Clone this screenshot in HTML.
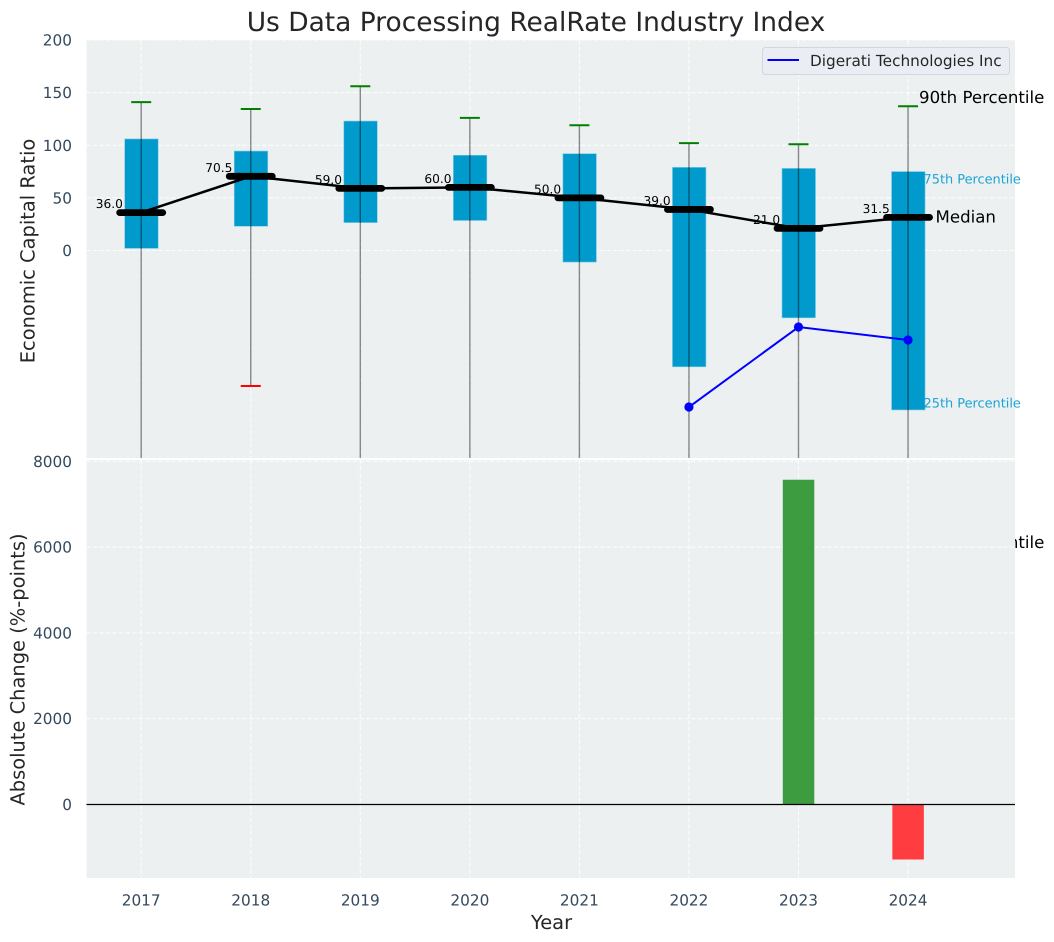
<!DOCTYPE html>
<html>
<head>
<meta charset="utf-8">
<title>Us Data Processing RealRate Industry Index</title>
<style>
html,body{margin:0;padding:0;background:#fff;}
svg{display:block;font-family:"DejaVu Sans","Liberation Sans",sans-serif;text-rendering:geometricPrecision;}
</style>
</head>
<body>
<svg id="chart" width="1054" height="942" viewBox="0 0 1054 942" xmlns="http://www.w3.org/2000/svg">
<defs>
<clipPath id="top-clip"><rect x="86.5" y="40" width="928.5" height="418"/></clipPath>
</defs>
</svg>
<script>
const years = [2017, 2018, 2019, 2020, 2021, 2022, 2023, 2024];
const p90 = [141, 134.5, 156, 126, 119, 102, 101, 137];
const q3 = [106, 94.5, 123, 90.5, 92, 79, 78, 75];
const medians = [36, 70.5, 59, 60, 50, 39, 21, 31.5];
const q1 = [2, 23, 26.5, 28.5, -11, -110.5, -64, -151.5];
const p10 = [-260, -128.7, -240, -230, -300, -400, -300, -286];
const company = [null, null, null, null, null, -148.7, -72.7, -85];
const changes = [null, null, null, null, null, null, 7570, -1282];
const topTicks = [0, 50, 100, 150, 200];
const bottomTicks = [0, 2000, 4000, 6000, 8000];
const medianLabels = ['36.0', '70.5', '59.0', '60.0', '50.0', '39.0', '21.0', '31.5'];

const svg = document.getElementById('chart');
const NS = 'http://www.w3.org/2000/svg';
const LEFT = 86.5, RIGHT = 1015, TOP1 = 40, BOT1 = 458, TOP2 = 460, BOT2 = 878;
const xScale = v => 141.2 + (v - 2017) * 109.55;
const yTop = v => 250.5 - v * 1.0525;
const yBottom = v => 804.5 - v * 0.0429;

function make(tag, attrs, parent, text) {
  const el = document.createElementNS(NS, tag);
  for (const k in attrs) el.setAttribute(k, attrs[k]);
  if (text !== undefined) el.textContent = text;
  (parent || svg).appendChild(el);
  return el;
}
function group(clip) {
  const g = make('g', clip ? {'clip-path': 'url(#top-clip)'} : {});
  return g;
}
const GRID = {stroke: '#fff', 'stroke-width': 1, 'stroke-dasharray': '4.5,2', opacity: 0.9};
let el;

/* title and axis titles */
el = make('text', {x: 536, y: 31, 'text-anchor': 'middle', 'font-size': 26.45, fill: '#262626'}, svg, 'Us Data Processing RealRate Industry Index');


el = make('text', {transform: 'translate(34.5,251) rotate(-90)', 'text-anchor': 'middle', 'font-size': 19.45, fill: '#262626'}, svg, 'Economic Capital Ratio');


el = make('text', {transform: 'translate(24.5,669.5) rotate(-90)', 'text-anchor': 'middle', 'font-size': 19.45, fill: '#262626'}, svg, 'Absolute Change (%-points)');


el = make('text', {x: 551.5, y: 929, 'text-anchor': 'middle', 'font-size': 19.45, fill: '#262626'}, svg, 'Year');



/* annotation that sits behind the lower panel */
const lastX = xScale(years[years.length - 1]);
el = make('text', {x: lastX + 11, y: yTop(p10[7]) - 3.5, 'font-size': 16.6, fill: '#000'}, svg, '10th Percentile');



/* panels */
el = make('rect', {x: LEFT, y: TOP1, width: RIGHT - LEFT, height: BOT1 - TOP1, fill: '#ecf0f1'});


el = make('rect', {x: LEFT, y: TOP2, width: RIGHT - LEFT, height: BOT2 - TOP2, fill: '#ecf0f1'});



/* grids */
const topGrid = group(true);


topTicks.forEach(t => {
  make('line', Object.assign({x1: LEFT, x2: RIGHT, y1: yTop(t), y2: yTop(t)}, GRID), topGrid);
});
years.forEach(y => {
  make('line', Object.assign({x1: xScale(y), x2: xScale(y), y1: TOP1, y2: BOT1}, GRID), topGrid);
});
const bottomGrid = group(false);


bottomTicks.forEach(t => {
  make('line', Object.assign({x1: LEFT, x2: RIGHT, y1: yBottom(t), y2: yBottom(t)}, GRID), bottomGrid);
});
years.forEach(y => {
  make('line', Object.assign({x1: xScale(y), x2: xScale(y), y1: TOP2, y2: BOT2}, GRID), bottomGrid);
});

/* tick labels */
topTicks.forEach(t => {
  el = make('text', {x: 72, y: yTop(t) + 5.5, 'text-anchor': 'end', 'font-size': 15.3, fill: '#34495e'}, svg, String(t));
  
  
});
bottomTicks.forEach(t => {
  el = make('text', {x: 72, y: yBottom(t) + 5.5, 'text-anchor': 'end', 'font-size': 15.3, fill: '#34495e'}, svg, String(t));
  
  
});
years.forEach(y => {
  el = make('text', {x: xScale(y), y: 905.5, 'text-anchor': 'middle', 'font-size': 15.3, fill: '#34495e'}, svg, String(y));
  
  
});

/* top panel marks */
const marks = group(true);



years.forEach((y, i) => {
  const bx = xScale(y);
  el = make('rect', {x: bx - 16.5, y: yTop(q3[i]), width: 33.5, height: yTop(q1[i]) - yTop(q3[i]), fill: '#009acd', stroke: '#7fcce6', 'stroke-width': 0.6}, marks);
  
  
  el = make('line', {x1: bx, x2: bx, y1: yTop(p90[i]), y2: yTop(p10[i]), stroke: '#000', 'stroke-opacity': 0.45, 'stroke-width': 1.4}, marks);
  
  
  el = make('line', {x1: bx - 10, x2: bx + 10, y1: yTop(p90[i]), y2: yTop(p90[i]), stroke: '#008000', 'stroke-width': 2}, marks);
  
  
  el = make('line', {x1: bx - 10, x2: bx + 10, y1: yTop(p10[i]), y2: yTop(p10[i]), stroke: '#ff0000', 'stroke-width': 2}, marks);
  
  
});

el = make('polyline', {points: years.map((y, i) => xScale(y) + ',' + yTop(medians[i])).join(' '), fill: 'none', stroke: '#000', 'stroke-width': 2.5}, marks);



years.forEach((y, i) => {
  const bx = xScale(y);
  el = make('line', {x1: bx - 21.5, x2: bx + 21.5, y1: yTop(medians[i]), y2: yTop(medians[i]), stroke: '#000', 'stroke-width': 6.8, 'stroke-linecap': 'round'}, marks);
  
  
});

const compPts = years.map((y, i) => company[i] === null ? null : [xScale(y), yTop(company[i])]).filter(Boolean);
el = make('polyline', {points: compPts.map(p => p.join(',')).join(' '), fill: 'none', stroke: '#0000ff', 'stroke-width': 2}, marks);


compPts.forEach(p => {
  el = make('circle', {cx: p[0], cy: p[1], r: 4.6, fill: '#0000ff'}, marks);
  
  
});

/* median value labels */
years.forEach((y, i) => {
  el = make('text', {x: xScale(y) - 18.3, y: yTop(medians[i]) - 4.5, 'text-anchor': 'end', 'font-size': 12.2, fill: '#000'}, svg, medianLabels[i]);
  
  
});

/* percentile annotations */
el = make('text', {x: lastX + 11, y: yTop(p90[7]) - 3.5, 'font-size': 16.6, fill: '#000'}, svg, '90th Percentile');


el = make('text', {x: lastX + 15.5, y: yTop(q3[7]) + 12, 'font-size': 12.9, fill: '#1ba3d2'}, svg, '75th Percentile');


el = make('text', {x: lastX + 27.5, y: yTop(medians[7]) + 5, 'font-size': 16.6, fill: '#000'}, svg, 'Median');


el = make('text', {x: lastX + 15.5, y: yTop(q1[7]) - 2.5, 'font-size': 12.9, fill: '#1ba3d2'}, svg, '25th Percentile');



/* bottom panel bars */
years.forEach((y, i) => {
  if (changes[i] === null) return;
  const top = Math.min(yBottom(changes[i]), yBottom(0));
  const h = Math.abs(yBottom(changes[i]) - yBottom(0));
  el = make('rect', {x: xScale(y) - 15.7, y: top, width: 31.5, height: h, fill: changes[i] >= 0 ? '#3c9c3f' : '#ff3d40'});
  
  
});
el = make('line', {x1: LEFT, x2: RIGHT, y1: yBottom(0), y2: yBottom(0), stroke: '#000', 'stroke-width': 1.2});



/* legend */
const legend = make('g', {});


el = make('rect', {x: 762.5, y: 47.5, width: 247, height: 27, rx: 3, fill: '#eaecf2', 'fill-opacity': 0.95, stroke: '#d4d6da', 'stroke-width': 1}, legend);


el = make('line', {x1: 767.5, x2: 799, y1: 60, y2: 60, stroke: '#0000ff', 'stroke-width': 2}, legend);


el = make('text', {x: 810, y: 66, 'font-size': 15.3, fill: '#262626'}, legend, 'Digerati Technologies Inc');


</script>
</body>
</html>
